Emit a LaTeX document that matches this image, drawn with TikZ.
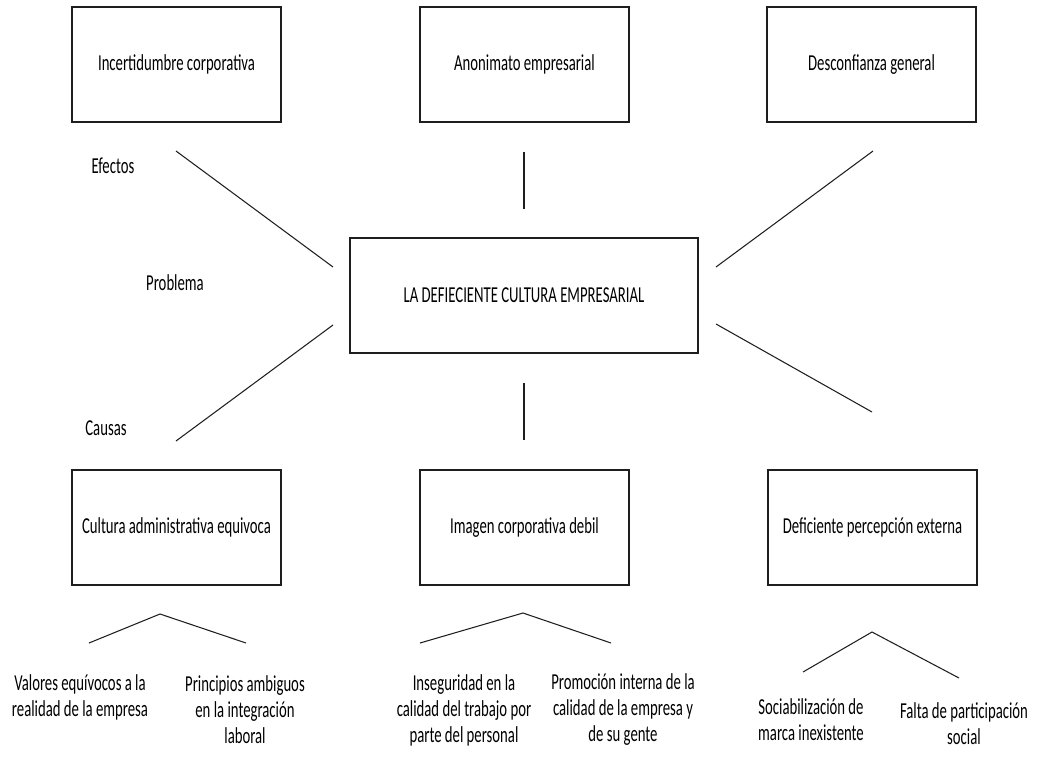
\documentclass[tikz,border=0pt]{standalone}
\usepackage{fontspec}
\setmainfont[FakeStretch=0.645]{Carlito}
\usepackage{tikz}
\usetikzlibrary{positioning, calc}
\definecolor{arbolgris}{RGB}{30, 30, 30}

\begin{document}
\begin{tikzpicture}[x=0.02cm, y=-0.02cm,
    caja/.style={rectangle, draw=arbolgris, line width=0.85pt, minimum width=4.18cm, minimum height=2.3cm, font=\fontsize{13}{16}\selectfont},
    hoja/.style={align=center, inner sep=0pt, font=\fontsize{13}{14.8}\selectfont},
    etiqueta/.style={inner sep=0pt, font=\fontsize{13}{16}\selectfont},
    rama/.style={draw=arbolgris, line width=0.6pt}]
    \useasboundingbox (0,0) rectangle (1037,761);

    % efectos
    \node[caja] (efecto1) at (176.5,64.5) {Incertidumbre corporativa};
    \node[caja] (efecto2) at (524.5,64.5) {Anonimato empresarial};
    \node[caja] (efecto3) at (871.5,64.5) {Desconfianza general};

    % problema central
    \node[caja, minimum width=6.96cm] (problema) at (524,295.5) {LA DEFIECIENTE CULTURA EMPRESARIAL};

    % causas
    \node[caja] (causa1) at (176.5,527.5) {Cultura administrativa equivoca};
    \node[caja] (causa2) at (524.5,527.5) {Imagen corporativa debil};
    \node[caja] (causa3) at (872.5,527.5) {Deficiente percepción externa};

    \node[etiqueta] (efectos) at (113,166) {Efectos};
    \node[etiqueta] (problemaTxt) at (175,283) {Problema};
    \node[etiqueta] (causas) at (106,428) {Causas};

    % extremos de las lineas
    \coordinate (e1a) at (176,151);  \coordinate (e1b) at (333,267);
    \coordinate (e2a) at (524,152);  \coordinate (e2b) at (524,209);
    \coordinate (e3a) at (873,151);  \coordinate (e3b) at (716,267);
    \coordinate (c1a) at (333,325);  \coordinate (c1b) at (176,441);
    \coordinate (c2a) at (524,383);  \coordinate (c2b) at (524,440);
    \coordinate (c3a) at (716,324);  \coordinate (c3b) at (872,412);

    \foreach \a/\b in {e1a/e1b, e2a/e2b, e3a/e3b, c1a/c1b, c2a/c2b, c3a/c3b}
      \draw[rama] (\a) -- (\b);

    % subcausas
    \node[hoja] (sub1) at (80,697) {Valores equívocos a la\\realidad de la empresa};
    \node[hoja] (sub2) at (245,710) {Principios ambiguos\\en la integración\\laboral};
    \node[hoja] (sub3) at (464,710) {Inseguridad en la\\calidad del trabajo por\\parte del personal};
    \node[hoja] (sub4) at (623,710) {Promoción interna de la\\calidad de la empresa y\\de su gente};
    \node[hoja] (sub5) at (811,720) {Sociabilización de\\marca inexistente};
    \node[hoja] (sub6) at (964,724) {Falta de participación\\social};

    \coordinate (v1) at (160,614);  \coordinate (v1l) at (89,643);  \coordinate (v1r) at (246,643);
    \coordinate (v2) at (523,613);  \coordinate (v2l) at (420,643); \coordinate (v2r) at (611,643);
    \coordinate (v3) at (872,632);  \coordinate (v3l) at (803,672); \coordinate (v3r) at (959,678);

    \foreach \i in {1,2,3}
      \draw[rama] (v\i l) -- (v\i) -- (v\i r);
\end{tikzpicture}
\end{document}
